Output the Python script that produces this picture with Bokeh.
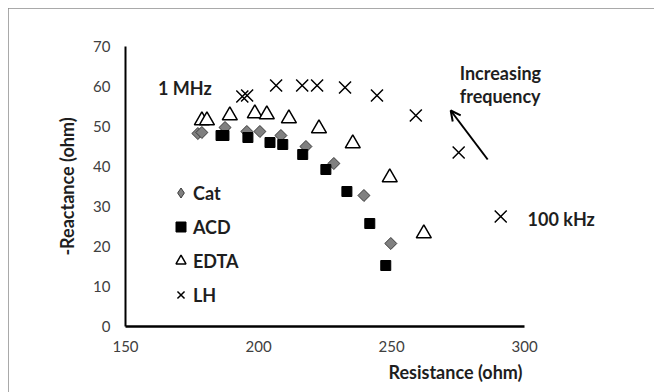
import numpy as np
from bokeh.plotting import figure
from bokeh.models import Range1d, FixedTicker, Label, Legend, LegendItem, Arrow, OpenHead, Title
from bokeh.embed import file_html
from bokeh.resources import INLINE

# Resistance (ohm) / -Reactance (ohm) per anticoagulant
cat_r = [177.2, 178.7, 187.4, 195.6, 200.5, 208.4, 217.8, 228.3, 239.6, 249.7]
cat_x = [48.25, 48.5, 49.75, 48.75, 48.75, 47.75, 45.0, 40.75, 32.75, 20.75]
acd_r = [185.9, 187.0, 196.0, 204.3, 209.1, 216.6, 225.3, 233.2, 241.8, 247.8]
acd_x = [47.75, 47.75, 47.25, 46.0, 45.5, 43.0, 39.25, 33.75, 25.75, 15.25]
edta_r = [178.7, 180.6, 189.2, 198.6, 203.1, 211.4, 222.7, 235.4, 249.3, 262.1]
edta_x = [51.5, 51.5, 52.75, 53.25, 53.0, 52.0, 49.5, 45.75, 37.25, 23.25]
lh_r = [193.9, 195.7, 206.6, 216.4, 222.0, 232.5, 244.5, 259.1, 275.2, 291.0]
lh_x = [57.5, 57.75, 60.25, 60.25, 60.25, 59.75, 57.75, 52.75, 43.5, 27.5]

x_ticks = [150, 200, 250, 300]
y_ticks = [0, 10, 20, 30, 40, 50, 60, 70]

FONT = "Lato"
TXT = "#1e1e1e"

p = figure(width=646, height=384, output_backend="svg", toolbar_location=None,
           x_range=Range1d(150, 330), y_range=Range1d(0, 70),
           min_border_left=117, min_border_right=50, min_border_top=38, min_border_bottom=66)
p.styles = {"margin-left": "8px", "margin-top": "8px",
            "outline": "1px solid #8c8c8c", "outline-offset": "-1px"}
p.outline_line_color = None
p.xgrid.visible = False
p.ygrid.visible = False
p.background_fill_color = "white"
p.border_fill_color = "white"

for ax in (p.xaxis[0], p.yaxis[0]):
    ax.major_tick_line_color = None
    ax.minor_tick_line_color = None
    ax.major_tick_out = 0
    ax.major_tick_in = 0
    ax.axis_line_color = "black"
    ax.major_label_text_font = FONT
    ax.major_label_text_font_size = "15px"
    ax.major_label_text_color = "#404040"

p.xaxis[0].ticker = FixedTicker(ticks=x_ticks)
p.yaxis[0].ticker = FixedTicker(ticks=y_ticks)
p.xaxis[0].bounds = (150, 300)
p.xaxis[0].axis_line_width = 2.5
p.yaxis[0].axis_line_width = 2
p.xaxis[0].major_label_standoff = 14
p.yaxis[0].major_label_standoff = 15
p.yaxis[0].axis_label = "-Reactance (ohm)"
p.yaxis[0].axis_label_text_font = FONT
p.yaxis[0].axis_label_text_font_style = "bold"
p.yaxis[0].axis_label_text_font_size = "18px"
p.yaxis[0].axis_label_text_color = TXT
p.yaxis[0].axis_label_standoff = 12

p.add_layout(Title(text="Resistance (ohm)", align="right", offset=82, standoff=8,
                   text_font=FONT, text_font_style="bold", text_font_size="18px",
                   text_color=TXT), "below")

r_cat_leg = p.scatter(cat_r, cat_x, marker="diamond", size=0,
                      fill_color="#808080", line_color="#3a3a3a", line_width=1)
r_cat = p.scatter(cat_r, cat_x, marker="square", angle=np.pi / 4, size=8.5,
                  fill_color="#808080", line_color="#3a3a3a", line_width=1)
r_acd = p.scatter(acd_r, acd_x, marker="square", size=10,
                  fill_color="black", line_color="black")
r_edta = p.scatter(edta_r, edta_x, marker="triangle", size=15,
                   fill_color="white", line_color="black", line_width=1.5)
r_lh = p.scatter(lh_r, lh_x, marker="x", size=17, line_color="black", line_width=1.5)

legend = Legend(items=[LegendItem(label="Cat", renderers=[r_cat_leg]),
                       LegendItem(label="ACD", renderers=[r_acd]),
                       LegendItem(label="EDTA", renderers=[r_edta]),
                       LegendItem(label="LH", renderers=[r_lh])],
                location=(43, 19), orientation="vertical",
                background_fill_alpha=0, border_line_color=None,
                glyph_width=25, glyph_height=25, label_height=25, spacing=9,
                padding=0, margin=0, label_standoff=0,
                label_text_font=FONT, label_text_font_style="bold",
                label_text_font_size="18px", label_text_color=TXT)
p.add_layout(legend, "center")

def lab(x, y, t, size="18px", align="left"):
    p.add_layout(Label(x=x, y=y, text=t, text_font=FONT, text_font_style="bold",
                       text_font_size=size, text_color=TXT,
                       text_align=align, text_baseline="middle"))

lab(162.2, 59.75, "1 MHz")
lab(275.6, 63.5, "Increasing")
lab(275.6, 57.75, "frequency")
lab(301.1, 27.0, "100 kHz")

p.add_layout(Arrow(end=OpenHead(size=10, line_width=2, line_color="black"),
                   x_start=286.1, y_start=41.75, x_end=272.2, y_end=54.0,
                   line_width=2, line_color="black"))

open("out.html", "w").write(file_html(p, INLINE))
